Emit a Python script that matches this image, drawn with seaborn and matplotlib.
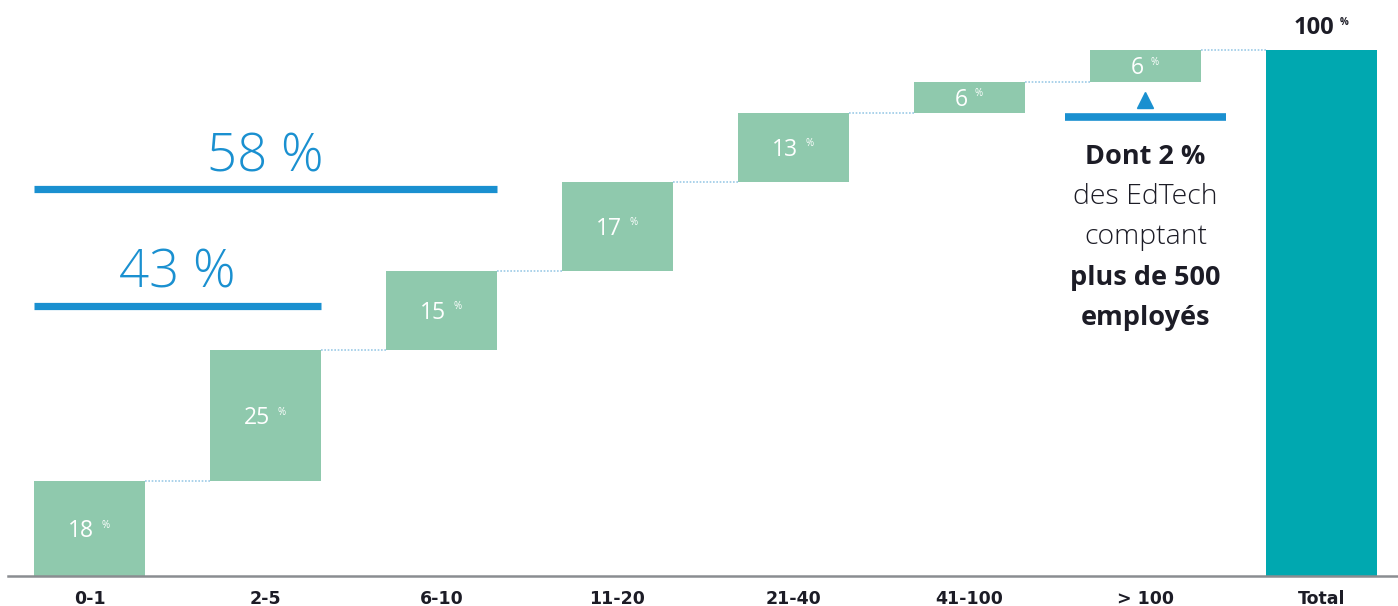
import matplotlib
matplotlib.use("Agg")
import matplotlib.pyplot as plt
import seaborn as sns
import numpy as np

# ---------------- data ----------------
categories = ["0-1", "2-5", "6-10", "11-20", "21-40", "41-100", "> 100", "Total"]
step_values = [18, 25, 15, 17, 13, 6, 6]
total_value = 100
bracket_values = [43, 58]
note_lines = ["Dont 2 %", "des EdTech", "comptant", "plus de 500", "employés"]
note_bold = [True, False, False, True, True]

# ---------------- style ----------------
GREEN = "#8FC9AD"
TEAL = "#00A8B0"
BLUE = "#1A90D0"
DARK = "#1C1C26"
CONNECT = "#9CCBE6"
FONT = "Open Sans"

sns.set_theme(style="white")
plt.rcParams["font.family"] = [FONT, "DejaVu Sans"]

PX = 5.26  # pixels per percentage point (layout helper)

heights = step_values + [total_value]
cum = np.cumsum(step_values)
bottoms = list(np.concatenate([[0], cum[:-1]])) + [0]
tops = [b + h for b, h in zip(bottoms, heights)]

fig = plt.figure(figsize=(13.98, 6.06), dpi=100)
ax = fig.add_axes([8 / 1398, 30 / 606, 1390 / 1398, 576 / 606])

W = 0.63
sns.barplot(x=categories, y=heights, bottom=bottoms, order=categories,
            width=W, color=GREEN, saturation=1, errorbar=None, ax=ax,
            linewidth=0)
ax.patches[-1].set_facecolor(TEAL)

ax.set_xlim(-0.463, 7.435)
ax.set_ylim(0, 576 / PX)

# connectors
for i in range(len(categories) - 1):
    lvl = tops[i]
    ax.plot([i + W / 2, i + 1 - W / 2], [lvl, lvl], color=CONNECT, lw=1.2,
            ls=(0, (1, 1)), zorder=1)

# bar labels
for i, v in enumerate(step_values):
    y = bottoms[i] + v / 2
    t = ax.annotate(f"{v}", xy=(i, y), xytext=(-6, -6), textcoords="offset points",
                    ha="center", va="baseline", color="white", fontsize=16.5,
                    fontweight="normal")
    ax.annotate("%", xy=(1, 0.97), xycoords=t, xytext=(5, 0),
                textcoords="offset points", ha="left", va="top",
                color="white", fontsize=7)

# total label
it = len(categories) - 1
t = ax.annotate(f"{total_value}", xy=(it, total_value), xytext=(-5.5, 11.3),
                textcoords="offset points", ha="center", va="baseline",
                color=DARK, fontsize=17, fontweight="bold")
ax.annotate("%", xy=(1, 0.97), xycoords=t, xytext=(4, 0),
            textcoords="offset points", ha="left", va="top",
            color=DARK, fontsize=7, fontweight="bold")

# brackets 43 % / 58 %
bracket_line_y = [(576 - 306) / PX, (576 - 188.5) / PX]
bracket_text_y = [(576 - 288) / PX, (576 - 172) / PX]
for val, ly, ty in zip(bracket_values, bracket_line_y, bracket_text_y):
    n = int(np.where(cum == val)[0][0]) + 1
    x0, x1 = -W / 2, (n - 1) + W / 2
    ax.plot([x0, x1], [ly, ly], color=BLUE, lw=5.2, solid_capstyle="butt")
    ax.text((x0 + x1) / 2, ty, f"{val} %", ha="center", va="baseline",
            color=BLUE, fontsize=38, fontweight="light")

# note on the right (> 100 column)
inote = len(categories) - 2
ax.plot([inote - 0.457, inote + 0.457], [87.3, 87.3], color=BLUE, lw=5.5,
        solid_capstyle="butt")
ax.plot([inote], [90.5], marker="^", color=BLUE, markersize=11, linestyle="none")
note_y = [157, 197, 237, 278, 318]
for line, b, py in zip(note_lines, note_bold, note_y):
    ax.text(inote, (576 - py) / PX, line, ha="center", va="center",
            color=DARK, fontsize=19.5 if b else 20.5,
            fontweight="bold" if b else "light")

# axes styling
for s in ["top", "right", "left"]:
    ax.spines[s].set_visible(False)
ax.spines["bottom"].set_color("#8A8D91")
ax.spines["bottom"].set_linewidth(1.8)
ax.set_yticks([])
ax.set_xlabel("")
ax.set_ylabel("")
ax.tick_params(axis="x", length=0, pad=10, labelsize=12.5, labelcolor=DARK)
for lab in ax.get_xticklabels():
    lab.set_fontweight("bold")
    lab.set_family(["DejaVu Sans"])

fig.savefig("out.png", dpi=100, facecolor="white")
